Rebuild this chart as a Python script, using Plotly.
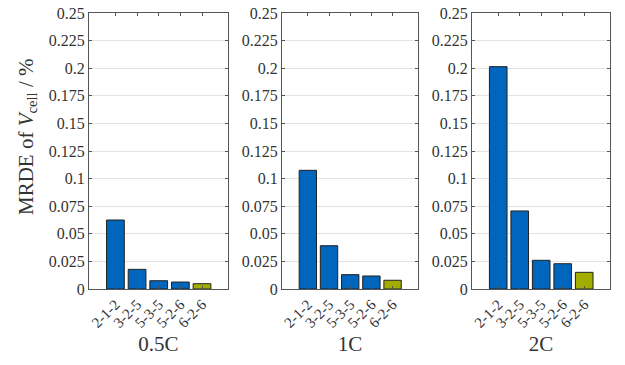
import plotly.graph_objects as go

# Model configurations (electrode-separator-electrode discretisation)
configs = ["2-1-2", "3-2-5", "5-3-5", "5-2-6", "6-2-6"]
c_rates = ["0.5C", "1C", "2C"]

# MRDE of cell voltage in % per C-rate
mrde_05c = [0.0625, 0.0178, 0.0075, 0.0063, 0.0048]
mrde_1c = [0.1075, 0.0392, 0.0130, 0.0118, 0.0079]
mrde_2c = [0.2014, 0.0707, 0.0260, 0.0229, 0.0151]

y_ticks = [0, 0.025, 0.05, 0.075, 0.1, 0.125, 0.15, 0.175, 0.2, 0.225, 0.25]
y_tick_text = ["0", "0.025", "0.05", "0.075", "0.1", "0.125", "0.15", "0.175", "0.2", "0.225", "0.25"]

BLUE = "#0065BD"
GREEN = "#A2AD00"
bar_colors = [BLUE, BLUE, BLUE, BLUE, GREEN]

W, H = 625, 365
FONT = "Liberation Serif, Times New Roman, serif"
TXT = "#333333"
AX = "#555555"

# panel extents in pixels
panels_px = [(89, 228), (282, 418), (472, 610)]
top_px, bot_px = 13, 289
y_dom = [1 - bot_px / H, 1 - top_px / H]

fig = go.Figure()
series = [mrde_05c, mrde_1c, mrde_2c]
layout = {}
for i, (vals, rate, (x0, x1)) in enumerate(zip(series, c_rates, panels_px)):
    sfx = "" if i == 0 else str(i + 1)
    fig.add_trace(go.Bar(
        x=configs, y=vals,
        xaxis="x" + sfx, yaxis="y" + sfx,
        marker=dict(color=bar_colors, line=dict(color="#222222", width=1)),
        showlegend=False,
    ))
    layout["xaxis" + sfx] = dict(
        domain=[x0 / W, x1 / W], anchor="y" + sfx, automargin=False,
        type="category", range=[-1.22, 5.2],
        showline=True, linecolor=AX, linewidth=1, mirror="ticks",
        ticks="inside", ticklen=3, tickcolor=AX,
        tickangle=-45, tickfont=dict(family=FONT, size=15, color=TXT),
        showgrid=False, zeroline=False,
        title=dict(text=rate, font=dict(family=FONT, size=21, color=TXT), standoff=6),
    )
    layout["yaxis" + sfx] = dict(
        domain=y_dom, anchor="x" + sfx, automargin=False,
        range=[0, 0.25], tickvals=y_ticks, ticktext=y_tick_text,
        showline=True, linecolor=AX, linewidth=1, mirror="ticks",
        ticks="inside", ticklen=3, tickcolor=AX,
        tickfont=dict(family=FONT, size=16, color=TXT),
        showgrid=True, gridcolor="#e3e3e3", gridwidth=1, zeroline=False,
    )

fig.update_layout(
    width=W, height=H,
    margin=dict(l=0, r=0, t=0, b=0, autoexpand=False),
    paper_bgcolor="white", plot_bgcolor="white",
    bargap=0.18,
    annotations=[dict(
        text="MRDE of <i>V</i><sub>cell</sub> / %",
        x=27 / W, y=1 - 137 / H, xref="paper", yref="paper",
        textangle=-90, showarrow=False,
        font=dict(family=FONT, size=21, color=TXT),
        xanchor="center", yanchor="middle",
    )],
    **layout,
)

fig.write_html("out.html")
